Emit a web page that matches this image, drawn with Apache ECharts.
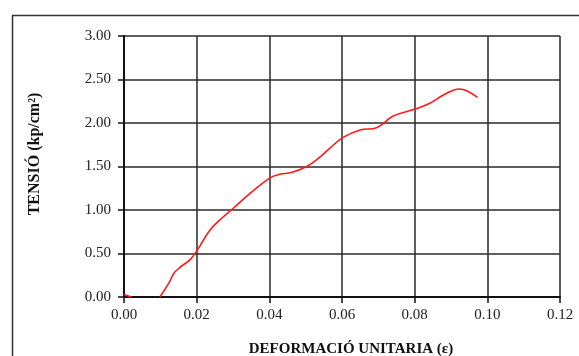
<!DOCTYPE html>
<html>
<head>
<meta charset="utf-8">
<script src="https://cdn.jsdelivr.net/npm/echarts@6/dist/echarts.min.js"></script>
<style>html,body{margin:0;padding:0;background:#fff;}#c{width:579px;height:356px;}</style>
</head>
<body>
<div id="c"></div>
<script>
// Strain (deformació unitària) values
const strain = [0.000, 0.002, 0.005, 0.0099, 0.0125, 0.0137, 0.0154, 0.0182, 0.0202, 0.0237, 0.0273, 0.0301, 0.0347, 0.0402, 0.0429, 0.0461, 0.0503, 0.0530, 0.0567, 0.0603, 0.0650, 0.0695, 0.0741, 0.0801, 0.0842, 0.0878, 0.0924, 0.0943, 0.0973];
// Stress (tensió) values, '-' marks a gap in the curve
const stress = [0.03, 0.00, '-', 0.00, 0.17, 0.27, 0.34, 0.43, 0.54, 0.77, 0.92, 1.02, 1.19, 1.37, 1.41, 1.43, 1.50, 1.575, 1.71, 1.835, 1.92, 1.946, 2.08, 2.16, 2.226, 2.32, 2.39, 2.37, 2.295];
const xTitle = 'DEFORMACIÓ UNITARIA (ε)';
const yTitle = 'TENSIÓ (kp/cm²)';

const data = strain.map((x, i) => [x, stress[i]]);
const chart = echarts.init(document.getElementById('c'));
const serif = '"Liberation Serif", "DejaVu Serif", serif';
chart.setOption({
  animation: false,
  grid: {left: 124, right: 19, top: 36, bottom: 59},
  xAxis: {
    type: 'value', min: 0, max: 0.12, interval: 0.02,
    axisLine: {show: true, onZero: false, lineStyle: {color: '#111', width: 2}},
    axisTick: {show: true, length: 6, lineStyle: {color: '#111', width: 1.5}},
    axisLabel: {fontFamily: serif, fontSize: 15, color: '#222', margin: 11, formatter: v => v.toFixed(2)},
    splitLine: {show: true, lineStyle: {color: '#2a2a2a', width: 1.5}}
  },
  yAxis: {
    type: 'value', min: 0, max: 3, interval: 0.5,
    axisLine: {show: true, lineStyle: {color: '#111', width: 2}},
    axisTick: {show: true, length: 6, lineStyle: {color: '#111', width: 1.5}},
    axisLabel: {fontFamily: serif, fontSize: 15, color: '#222', margin: 13, formatter: v => v.toFixed(2)},
    splitLine: {show: true, lineStyle: {color: '#2a2a2a', width: 1.5}}
  },
  series: [{
    type: 'line', data: data, smooth: 0.4, showSymbol: false, connectNulls: false,
    lineStyle: {color: '#ff1a1a', width: 1.6}
  }],
  graphic: [
    {type: 'rect', left: 10, top: 13, shape: {width: 620, height: 400}, style: {fill: 'none', stroke: '#333', lineWidth: 1.5}, z: -1},
    {type: 'text', x: 351, y: 349, style: {text: xTitle, font: 'bold 15px ' + serif, fill: '#111', align: 'center', verticalAlign: 'middle'}},
    {type: 'text', x: 35, y: 154, rotation: Math.PI / 2, style: {text: yTitle, font: 'bold 16px ' + serif, fill: '#111', align: 'center', verticalAlign: 'middle'}}
  ]
});
</script>
</body>
</html>
